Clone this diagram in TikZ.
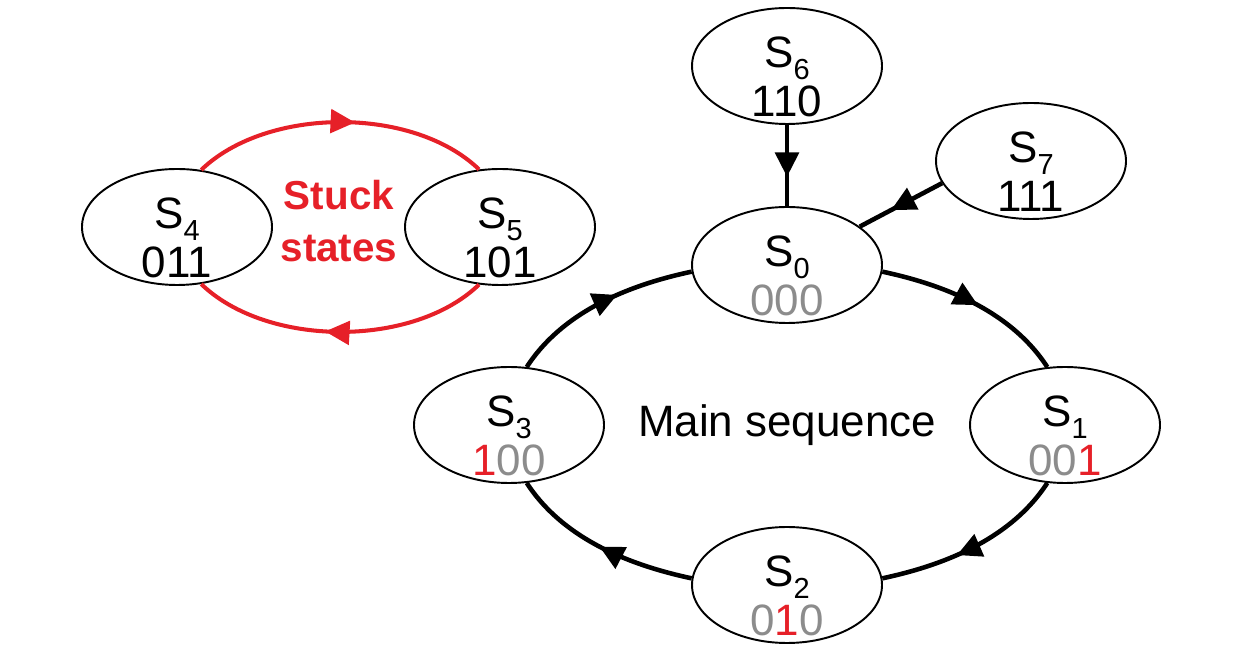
\documentclass[tikz,border=0pt]{standalone}
\usepackage{fontspec}
\setmainfont{Liberation Sans}
\usepackage{tikz}
\usetikzlibrary{arrows.meta,shapes.geometric,decorations.markings}
\definecolor{stuckred}{RGB}{230,32,40}
\definecolor{bitgray}{RGB}{140,140,140}
\newcommand{\ssub}[1]{\raisebox{-0.24cm}{\fontsize{16.5}{18}\selectfont #1}}
\newcommand{\gbit}[1]{\textcolor{bitgray}{#1}}
\newcommand{\rbit}[1]{\textcolor{stuckred}{#1}}
\tikzstyle{statebox}=[ellipse, draw, line width=1.1pt, fill=white, minimum width=3.8cm, minimum height=2.32cm, inner xsep=0pt, inner ysep=-6pt, align=center, text height=58pt, text depth=0pt, font=\fontsize{25}{28}\selectfont]
\tikzstyle{link}=[draw=black, line width=2.6pt]
\tikzstyle{redlink}=[draw=stuckred, line width=2.3pt]
\tikzset{midarrow/.style={postaction={decorate}, decoration={markings, mark=at position #1 with {\arrow{Triangle[length=4.9mm, width=4.7mm]}}}}}

\begin{document}
\begin{tikzpicture}
		   \useasboundingbox (0,0) rectangle (24.72,13.08);
		   \begin{scope}
			   \node (S0) at (15.74, 7.78)[statebox] {S\ssub{0}\\\gbit{000}};
			   \node (S1) at (21.30, 4.58)[statebox] {S\ssub{1}\\\gbit{00}\rbit{1}};
			   \node (S2) at (15.74, 1.38)[statebox] {S\ssub{2}\\\gbit{0}\rbit{1}\gbit{0}};
			   \node (S3) at (10.18, 4.58)[statebox] {S\ssub{3}\\\rbit{1}\gbit{00}};
			   \node (S4) at (3.54, 8.54)[statebox] {S\ssub{4}\\011};
			   \node (S5) at (10.00, 8.54)[statebox] {S\ssub{5}\\101};
			   \node (S6) at (15.74, 11.76)[statebox] {S\ssub{6}\\110};
			   \node (S7) at (20.62, 9.86)[statebox] {S\ssub{7}\\111};
			   \node (mainlabel) at (15.74, 4.34)[anchor=base, font=\fontsize{25}{28}\selectfont] {Main sequence};
			   \node (stucklabel) at (6.78, 7.84)[anchor=base, align=center, text=stuckred, font=\fontsize{23}{30}\selectfont\bfseries] {Stuck\\states};
		   \end{scope}
		   \begin{scope}
			   % main loop
			   \path [link, midarrow=0.52] (S0.-4) to[out=-12, in=123, looseness=0.88] (S1.107);
			   \path [link, midarrow=0.6] (S1.-107) to[out=-123, in=12, looseness=0.88] (S2.4);
			   \path [link, midarrow=0.5] (S2.176) to[out=168, in=-57, looseness=0.88] (S3.-73);
			   \path [link, midarrow=0.6] (S3.73) to[out=57, in=-168, looseness=0.88] (S0.184);
			   % entries
			   \path [link, midarrow=0.64] (S6) -- (S0);
			   \path [link, midarrow=0.62] (S7.194) -- (S0);
			   % stuck loop
			   \path [redlink, midarrow=0.55] (S4.67) to[out=44, in=136, looseness=0.84] (S5.110);
			   \path [redlink, midarrow=0.55] (S5.-110) to[out=-136, in=-44, looseness=0.84] (S4.-67);
		   \end{scope}
\end{tikzpicture}
\end{document}
